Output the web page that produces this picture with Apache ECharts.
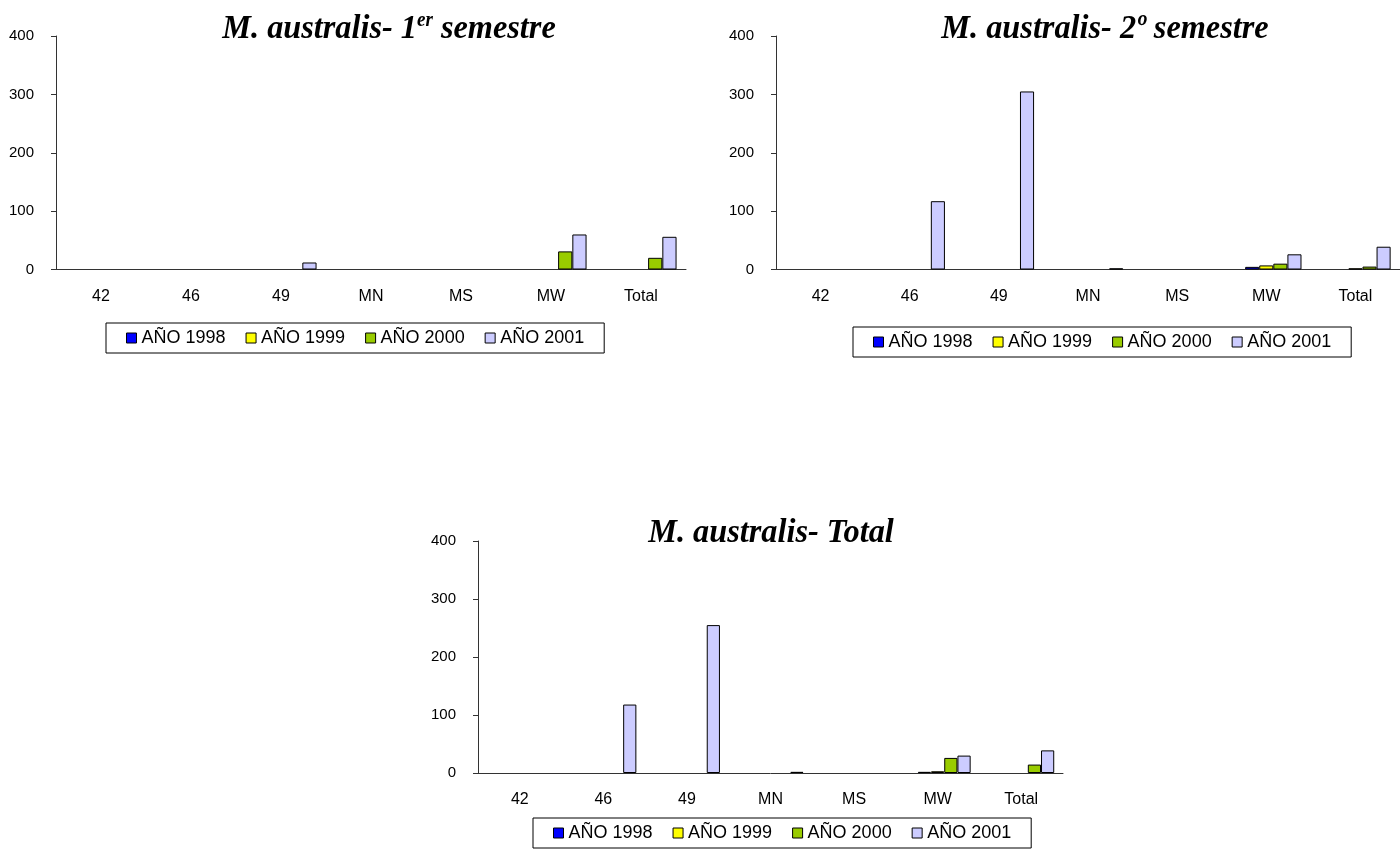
<!DOCTYPE html>
<html>
<head>
<meta charset="utf-8">
<title>M. australis</title>
<script src="https://cdn.jsdelivr.net/npm/echarts@6/dist/echarts.min.js"></script>
<style>
  html, body { margin: 0; padding: 0; background: #fff; }
  #chart { width: 1400px; height: 868px; }
</style>
</head>
<body>
<div id="chart"></div>
<script>
// Zonas y años (null = celda vacía)
const categories = ['42', '46', '49', 'MN', 'MS', 'MW', 'Total'];
const years = ['AÑO 1998', 'AÑO 1999', 'AÑO 2000', 'AÑO 2001'];
const yTicks = { min: 0, max: 400, interval: 100 };

// Primer semestre
const sem1_1998 = [null, null, null, null, null, null, null];
const sem1_1999 = [null, null, null, null, null, null, null];
const sem1_2000 = [null, null, null, null, null, 31, 20];
const sem1_2001 = [null, null, 12, null, null, 60, 56];

// Segundo semestre
const sem2_1998 = [null, null, null, null, null, 4.5, null];
const sem2_1999 = [null, null, null, null, null, 7, 2];
const sem2_2000 = [null, null, null, null, null, 10, 5];
const sem2_2001 = [null, 117, 305, 2, null, 26, 39];

// Total anual
const tot_1998 = [null, null, null, null, null, 2, null];
const tot_1999 = [null, null, null, null, null, 3, null];
const tot_2000 = [null, null, null, null, null, 26, 14.5];
const tot_2001 = [null, 118, 255, 2, null, 30, 39];

const colors = ['#0000FF', '#FFFF00', '#99CC00', '#CCCCFF'];
const sans = 'Liberation Sans, Arial, sans-serif';
const serif = 'Liberation Serif, Times New Roman, serif';

const panels = [
  { grid: { left: 56, top: 36, width: 630, height: 233.5 },
    data: [sem1_1998, sem1_1999, sem1_2000, sem1_2001],
    title: { x: 389, y: 29, text: '{m|M. australis- 1}{s|er}{m| semestre}' },
    legend: { left: 106, top: 323 } },
  { grid: { left: 776, top: 36, width: 630, height: 233.5 },
    data: [sem2_1998, sem2_1999, sem2_2000, sem2_2001],
    title: { x: 1105, y: 29, text: '{m|M. australis- 2º semestre}' },
    legend: { left: 853, top: 327 } },
  { grid: { left: 478, top: 541, width: 585, height: 232 },
    data: [tot_1998, tot_1999, tot_2000, tot_2001],
    title: { x: 771, y: 533, text: '{m|M. australis- Total}' },
    legend: { left: 533, top: 818 } }
];

const grid = [], xAxis = [], yAxis = [], series = [], legend = [], graphic = [];

panels.forEach((p, i) => {
  grid.push(Object.assign({ containLabel: false }, p.grid));
  xAxis.push({
    type: 'category', gridIndex: i, data: categories,
    axisLine: { lineStyle: { color: '#333', width: 1 } },
    axisTick: { length: 6, lineStyle: { color: '#333' } },
    axisLabel: { color: '#000', fontFamily: sans, fontSize: 16, margin: 19 }
  });
  yAxis.push({
    type: 'value', gridIndex: i, min: yTicks.min, max: yTicks.max, interval: yTicks.interval,
    splitLine: { show: false },
    axisLine: { show: true, lineStyle: { color: '#333', width: 1 } },
    axisTick: { show: true, length: 5, lineStyle: { color: '#333' } },
    axisLabel: { color: '#000', fontFamily: sans, fontSize: 15, margin: 22 }
  });
  // empty leading slot keeps the group of bars right of the category centre
  series.push({ type: 'bar', name: 'spacer', xAxisIndex: i, yAxisIndex: i, data: [],
    barGap: '0%', barCategoryGap: '21%', silent: true });
  p.data.forEach((vals, k) => {
    series.push({
      type: 'bar', name: years[k], xAxisIndex: i, yAxisIndex: i, data: vals,
      barGap: '0%', barCategoryGap: '21%',
      itemStyle: { color: colors[k], borderColor: '#000', borderWidth: 1 },
      emphasis: { disabled: true }
    });
  });
  legend.push({
    data: years, left: p.legend.left, top: p.legend.top,
    icon: 'rect', itemWidth: 10, itemHeight: 10, itemGap: 20,
    padding: [6, 20, 6, 20],
    borderColor: '#000', borderWidth: 1, backgroundColor: '#fff',
    itemStyle: { borderColor: '#000', borderWidth: 1 },
    textStyle: { color: '#000', fontFamily: sans, fontSize: 18 },
    selectedMode: false
  });
  graphic.push({
    type: 'text', x: p.title.x, y: p.title.y, scaleX: 0.95,
    style: {
      text: p.title.text, align: 'center', verticalAlign: 'middle',
      rich: {
        m: { fontFamily: serif, fontWeight: 'bold', fontStyle: 'italic', fontSize: 34, lineHeight: 36, fill: '#000' },
        s: { fontFamily: serif, fontWeight: 'bold', fontStyle: 'italic', fontSize: 20, lineHeight: 18, verticalAlign: 'top', fill: '#000' }
      }
    }
  });
});

const chart = echarts.init(document.getElementById('chart'), null, { renderer: 'canvas' });
chart.setOption({
  animation: false,
  backgroundColor: '#fff',
  grid, xAxis, yAxis, series, legend, graphic
});
</script>
</body>
</html>
